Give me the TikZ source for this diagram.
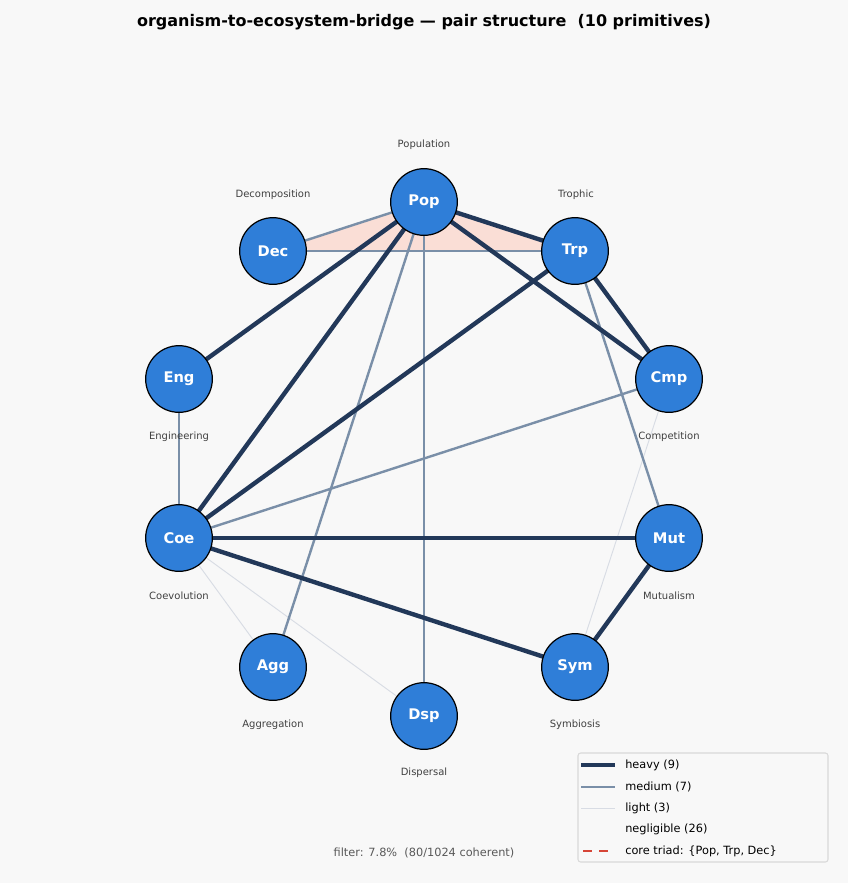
\documentclass[tikz,border=0pt]{standalone}
\usepackage{fontspec}
\setmainfont{DejaVu Sans}
\definecolor{heavyc}{RGB}{34,56,89}
\definecolor{mediumc}{RGB}{122,143,168}
\definecolor{lightc}{RGB}{216,220,228}
\definecolor{nodec}{RGB}{47,126,216}
\definecolor{triadc}{RGB}{250,222,214}
\definecolor{redc}{RGB}{214,69,55}
\definecolor{bgc}{RGB}{248,248,248}
\tikzset{
prim/.style={circle,draw=black,line width=0.9pt,fill=nodec,minimum size=50pt,inner sep=0pt,text=white,font=\bfseries\fontsize{11}{13}\selectfont},
lbl/.style={text=black!75,font=\fontsize{7.5}{9}\selectfont,inner sep=0pt},
heavy/.style={draw=heavyc,line width=3.3pt},
medium/.style={draw=mediumc,line width=1.8pt},
light/.style={draw=lightc,line width=0.7pt}}
\begin{document}
\begin{tikzpicture}[x=0.75pt,y=0.75pt,yscale=-1,xscale=1]
\fill[bgc] (0,0) rectangle (848,883);
\useasboundingbox (0,0) rectangle (848,883);

% Title
\node (title) at (424,22) {\bfseries\fontsize{12}{14}\selectfont organism-to-ecosystem-bridge --- pair structure\ \ (10 primitives)};

% Core triad
\fill[triadc] (424,202) -- (575,251) -- (273,251) -- cycle;

% Primitives
\coordinate (cpop) at (424,202);
\coordinate (ctrp) at (575,251);
\coordinate (ccmp) at (669,379);
\coordinate (cmut) at (669,538);
\coordinate (csym) at (575,667);
\coordinate (cdsp) at (424,716);
\coordinate (cagg) at (273,667);
\coordinate (ccoe) at (179,538);
\coordinate (ceng) at (179,379);
\coordinate (cdec) at (273,251);

% Light edges
\draw[light] (ccoe) -- (cagg);
\draw[light] (ccoe) -- (cdsp);
\draw[light] (ccmp) -- (csym);
% Medium edges
\draw[medium] (cpop) -- (cdec);
\draw[medium] (cdec) -- (ctrp);
\draw[medium] (cpop) -- (cdsp);
\draw[medium] (cpop) -- (cagg);
\draw[medium] (ctrp) -- (cmut);
\draw[medium] (ccmp) -- (ccoe);
\draw[medium] (ceng) -- (ccoe);
% Heavy edges
\draw[heavy] (cpop) -- (ctrp);
\draw[heavy] (cpop) -- (ccmp);
\draw[heavy] (cpop) -- (ceng);
\draw[heavy] (cpop) -- (ccoe);
\draw[heavy] (ctrp) -- (ccmp);
\draw[heavy] (ctrp) -- (ccoe);
\draw[heavy] (ccoe) -- (cmut);
\draw[heavy] (ccoe) -- (csym);
\draw[heavy] (cmut) -- (csym);

\node[prim] (pop) at (cpop) {Pop};
\node[prim] (trp) at (ctrp) {Trp};
\node[prim] (cmp) at (ccmp) {Cmp};
\node[prim] (mut) at (cmut) {Mut};
\node[prim] (sym) at (csym) {Sym};
\node[prim] (dsp) at (cdsp) {Dsp};
\node[prim] (agg) at (cagg) {Agg};
\node[prim] (coe) at (ccoe) {Coe};
\node[prim] (eng) at (ceng) {Eng};
\node[prim] (dec) at (cdec) {Dec};

% Full names
\node[lbl] (popl) at (424,145) {Population};
\node[lbl] (trpl) at (576,195) {Trophic};
\node[lbl] (decl) at (273,195) {Decomposition};
\node[lbl] (engl) at (179,437) {Engineering};
\node[lbl] (cmpl) at (669,437) {Competition};
\node[lbl] (coel) at (179,596) {Coevolution};
\node[lbl] (mutl) at (669,596) {Mutualism};
\node[lbl] (aggl) at (273,725) {Aggregation};
\node[lbl] (syml) at (575,725) {Symbiosis};
\node[lbl] (dspl) at (424,773) {Dispersal};

% Footer
\node[text=black!65,font=\fontsize{8.5}{10}\selectfont] (filter) at (424,853) {filter: 7.8\%\ \ (80/1024 coherent)};

% Legend
\draw[draw=black!15,fill=bgc,rounded corners=2pt,line width=0.8pt] (578,753) rectangle (828,862);
\foreach \y/\t in {765/{heavy (9)},787/{medium (7)},808/{light (3)},829/{negligible (26)},851/{core triad: \{Pop, Trp, Dec\}}} {
  \node[anchor=west,font=\fontsize{8.5}{10}\selectfont,inner sep=0pt] at (625,\y) {\t};
}
\coordinate (lh1) at (581,765); \coordinate (lh2) at (615,765);
\coordinate (lm1) at (581,787); \coordinate (lm2) at (615,787);
\coordinate (ll1) at (581,808); \coordinate (ll2) at (615,808);
\coordinate (lc1) at (583,851); \coordinate (lc2) at (615,851);
\draw[heavy] (lh1) -- (lh2);
\draw[medium] (lm1) -- (lm2);
\draw[light] (ll1) -- (ll2);
\draw[draw=redc,line width=1.5pt,dash pattern=on 7pt off 5pt] (lc1) -- (lc2);
\end{tikzpicture}
\end{document}
